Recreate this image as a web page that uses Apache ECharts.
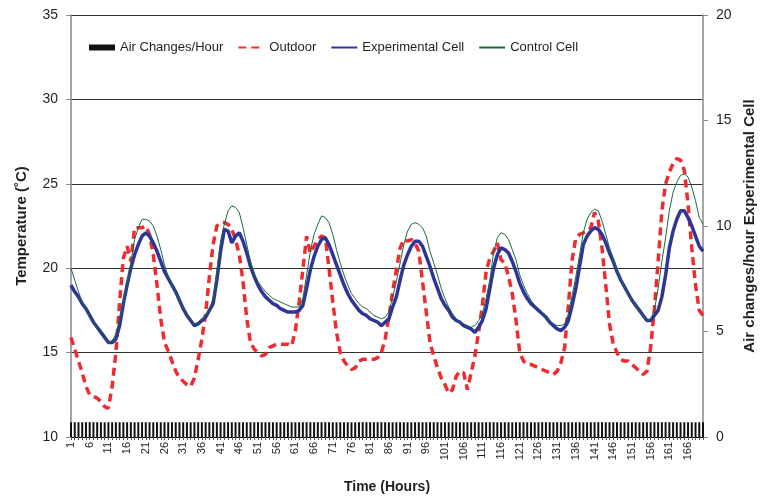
<!DOCTYPE html>
<html>
<head>
<meta charset="utf-8">
<script src="https://cdn.jsdelivr.net/npm/echarts@6/dist/echarts.min.js"></script>
<style>html,body{margin:0;padding:0;background:#fff;}#c{width:762px;height:496px;}</style>
</head>
<body>
<div id="c"></div>
<script>
var hours = [1,2,3,4,5,6,7,8,9,10,11,12,13,14,15,16,17,18,19,20,21,22,23,24,25,26,27,28,29,30,
31,32,33,34,35,36,37,38,39,40,41,42,43,44,45,46,47,48,49,50,51,52,53,54,55,56,57,58,59,60,
61,62,63,64,65,66,67,68,69,70,71,72,73,74,75,76,77,78,79,80,81,82,83,84,85,86,87,88,89,90,
91,92,93,94,95,96,97,98,99,100,101,102,103,104,105,106,107,108,109,110,111,112,113,114,115,116,117,118,119,120,
121,122,123,124,125,126,127,128,129,130,131,132,133,134,135,136,137,138,139,140,141,142,143,144,145,146,147,148,149,150,
151,152,153,154,155,156,157,158,159,160,161,162,163,164,165,166,167,168,169,170];

var airChanges = [0.7,0.7,0.7,0.7,0.7,0.7,0.7,0.7,0.7,0.7,
0.7,0.7,0.7,0.7,0.7,0.7,0.7,0.7,0.7,0.7,
0.7,0.7,0.7,0.7,0.7,0.7,0.7,0.7,0.7,0.7,
0.7,0.7,0.7,0.7,0.7,0.7,0.7,0.7,0.7,0.7,
0.7,0.7,0.7,0.7,0.7,0.7,0.7,0.7,0.7,0.7,
0.7,0.7,0.7,0.7,0.7,0.7,0.7,0.7,0.7,0.7,
0.7,0.7,0.7,0.7,0.7,0.7,0.7,0.7,0.7,0.7,
0.7,0.7,0.7,0.7,0.7,0.7,0.7,0.7,0.7,0.7,
0.7,0.7,0.7,0.7,0.7,0.7,0.7,0.7,0.7,0.7,
0.7,0.7,0.7,0.7,0.7,0.7,0.7,0.7,0.7,0.7,
0.7,0.7,0.7,0.7,0.7,0.7,0.7,0.7,0.7,0.7,
0.7,0.7,0.7,0.7,0.7,0.7,0.7,0.7,0.7,0.7,
0.7,0.7,0.7,0.7,0.7,0.7,0.7,0.7,0.7,0.7,
0.7,0.7,0.7,0.7,0.7,0.7,0.7,0.7,0.7,0.7,
0.7,0.7,0.7,0.7,0.7,0.7,0.7,0.7,0.7,0.7,
0.7,0.7,0.7,0.7,0.7,0.7,0.7,0.7,0.7,0.7,
0.7,0.7,0.7,0.7,0.7,0.7,0.7,0.7,0.7,0.7];

var outdoor = [15.9,15.2,14.5,13.8,13.0,12.5,12.4,12.3,12.1,11.8,
11.7,13.0,15.0,18.0,20.6,21.3,20.4,22.4,22.4,22.4,
22.5,22.0,20.8,19.0,17.0,15.6,15.1,14.5,13.9,13.5,
13.3,13.1,13.0,13.5,14.6,15.8,17.3,19.5,21.4,22.5,
22.7,22.7,22.6,22.3,21.7,20.8,19.2,17.0,15.6,15.2,
15.0,14.8,14.9,15.3,15.4,15.5,15.5,15.5,15.5,15.4,
16.3,18.0,19.9,21.9,20.9,21.3,21.7,21.9,21.8,20.0,
18.0,16.2,15.0,14.5,14.2,14.0,14.1,14.5,14.6,14.6,
14.6,14.6,14.7,15.0,15.8,17.1,18.6,19.9,21.2,21.7,
21.6,21.7,21.5,21.0,19.2,17.4,15.6,14.8,14.1,13.5,
13.1,12.6,12.8,13.6,13.9,13.8,12.8,13.8,14.8,16.2,
17.8,19.8,20.6,21.0,21.5,20.5,20.3,19.5,18.5,16.9,
15.0,14.5,14.3,14.3,14.2,14.1,14.0,13.9,13.8,13.7,
13.9,14.4,15.3,17.8,20.5,21.8,22.0,22.1,22.2,22.4,
23.3,22.8,21.2,19.0,16.7,15.5,15.0,14.6,14.5,14.5,
14.3,14.1,13.9,13.7,13.9,15.3,17.6,20.4,23.4,25.0,
25.7,26.2,26.5,26.4,25.8,23.8,21.2,19.0,17.5,17.2];

var experimental = [19.0,18.6,18.3,17.9,17.6,17.2,16.8,16.5,16.2,15.9,
15.6,15.6,15.8,16.6,17.9,19.0,20.0,20.8,21.4,21.9,
22.1,21.9,21.5,21.0,20.4,19.8,19.4,19.0,18.6,18.1,
17.6,17.2,16.9,16.6,16.7,16.9,17.1,17.5,17.9,19.3,
21.0,22.3,22.2,21.5,21.9,22.1,21.6,20.9,20.1,19.5,
19.0,18.6,18.3,18.1,17.9,17.8,17.6,17.5,17.4,17.4,
17.4,17.5,17.8,18.8,19.9,20.7,21.3,21.7,21.8,21.4,
20.8,20.2,19.6,19.0,18.5,18.1,17.8,17.5,17.3,17.2,
17.0,16.9,16.8,16.6,16.8,17.0,17.7,18.3,19.3,20.2,
20.8,21.3,21.6,21.6,21.3,20.7,20.1,19.4,18.8,18.2,
17.8,17.5,17.1,16.9,16.8,16.6,16.5,16.4,16.2,16.5,
16.9,17.6,18.8,20.0,20.8,21.2,21.1,20.9,20.4,19.8,
19.1,18.6,18.2,17.9,17.7,17.5,17.3,17.1,16.8,16.6,
16.4,16.3,16.5,16.9,17.8,18.8,20.1,21.4,21.9,22.2,
22.4,22.3,22.0,21.5,20.9,20.4,19.8,19.3,18.9,18.5,
18.1,17.8,17.5,17.2,16.9,16.9,17.2,17.5,18.3,19.6,
21.2,22.2,22.9,23.4,23.4,23.0,22.5,21.9,21.3,21.0];

var control = [20.0,19.3,18.6,18.0,17.5,17.1,16.8,16.4,16.1,15.8,
15.6,15.7,16.1,17.0,18.0,19.0,20.3,21.7,22.4,22.9,
22.9,22.8,22.5,21.9,21.1,20.2,19.5,19.0,18.6,18.1,
17.7,17.3,17.0,16.7,16.8,17.0,17.2,17.6,18.2,19.8,
21.6,22.6,23.4,23.7,23.6,23.3,22.4,21.4,20.4,19.7,
19.2,18.9,18.6,18.4,18.2,18.1,18.0,17.9,17.8,17.7,
17.7,17.7,18.2,19.6,21.0,22.0,22.6,23.1,23.0,22.7,
22.0,21.1,20.3,19.6,19.0,18.5,18.2,17.9,17.7,17.6,
17.4,17.2,17.1,17.0,17.1,17.4,18.3,19.2,20.3,21.4,
22.2,22.6,22.7,22.6,22.4,21.9,21.0,20.3,19.6,18.8,
18.2,17.7,17.3,17.0,16.8,16.7,16.6,16.5,16.6,16.9,
17.3,18.2,19.3,20.9,21.8,22.1,22.0,21.7,21.1,20.5,
19.6,19.0,18.5,18.1,17.8,17.6,17.4,17.1,16.9,16.7,
16.6,16.6,16.7,17.3,18.4,19.5,20.8,22.1,22.9,23.3,
23.5,23.4,22.8,22.0,21.2,20.6,19.9,19.3,18.9,18.5,
18.1,17.8,17.5,17.2,16.9,17.0,17.5,18.8,20.4,21.8,
23.4,24.5,25.1,25.5,25.6,25.4,24.8,24.0,23.0,22.6];

var FONT = "'Liberation Sans', Arial, sans-serif";
var TXT = '#231f20';

var chart = echarts.init(document.getElementById('c'), null, {renderer: 'canvas'});
chart.setOption({
  animation: false,
  backgroundColor: '#ffffff',
  textStyle: {fontFamily: FONT},
  grid: {left: 71, right: 59, top: 15, bottom: 59, containLabel: false, outerBoundsMode: 'none'},
  legend: {
    left: 84, top: 36,
    itemWidth: 26, itemHeight: 6, itemGap: 14,
    textStyle: {fontSize: 13, color: TXT, fontFamily: FONT},
    data: [
      {name: 'Air Changes/Hour', icon: 'rect'},
      {name: 'Outdoor', itemStyle: {opacity: 0}},
      {name: 'Experimental Cell', itemStyle: {opacity: 0}},
      {name: 'Control Cell', itemStyle: {opacity: 0}}
    ]
  },
  xAxis: {
    type: 'category',
    data: hours,
    boundaryGap: false,
    name: 'Time (Hours)',
    nameLocation: 'middle',
    nameGap: 43,
    nameTextStyle: {fontSize: 14, fontWeight: 'bold', color: TXT, fontFamily: FONT},
    axisLine: {lineStyle: {color: '#000', width: 1}},
    axisTick: {show: true, interval: 0, length: 3, lineStyle: {color: '#555'}},
    axisLabel: {interval: 4, rotate: 90, fontSize: 11, color: TXT, margin: 5, fontFamily: FONT},
    splitLine: {show: false}
  },
  yAxis: [{
    type: 'value', min: 10, max: 35, interval: 5,
    name: 'Temperature (˚C)',
    nameLocation: 'middle', nameGap: 42, nameRotate: 90,
    nameTextStyle: {fontSize: 15, fontWeight: 'bold', color: TXT, fontFamily: FONT},
    axisLine: {show: true, lineStyle: {color: '#888', width: 1.5}},
    axisTick: {show: true, length: 5, lineStyle: {color: '#888'}},
    axisLabel: {fontSize: 14, color: TXT, margin: 13, fontFamily: FONT},
    splitLine: {show: true, lineStyle: {color: '#333', width: 1}}
  }, {
    type: 'value', min: 0, max: 20, interval: 5,
    position: 'right',
    name: 'Air changes/hour Experimental Cell',
    nameLocation: 'middle', nameGap: 27, nameRotate: 90,
    nameTextStyle: {fontSize: 15, fontWeight: 'bold', color: TXT, fontFamily: FONT},
    axisLine: {show: true, lineStyle: {color: '#888', width: 1.5}},
    axisTick: {show: true, length: 5, lineStyle: {color: '#888'}},
    axisLabel: {fontSize: 14, color: TXT, margin: 13, fontFamily: FONT},
    splitLine: {show: false}
  }],
  series: [{
    name: 'Air Changes/Hour', type: 'bar', yAxisIndex: 1,
    data: airChanges, barWidth: 2,
    itemStyle: {color: '#111'}
  }, {
    name: 'Outdoor', type: 'line', yAxisIndex: 0, data: outdoor,
    symbol: 'none', smooth: false,
    itemStyle: {color: '#ee2b2f'},
    lineStyle: {color: '#ee2b2f', width: 3.5, type: [8, 5]}
  }, {
    name: 'Experimental Cell', type: 'line', yAxisIndex: 0, data: experimental,
    symbol: 'none', smooth: false,
    itemStyle: {color: '#2f3597'},
    lineStyle: {color: '#2f3597', width: 3.5}
  }, {
    name: 'Control Cell', type: 'line', yAxisIndex: 0, data: control,
    symbol: 'none', smooth: false,
    itemStyle: {color: '#1b6b3c'},
    lineStyle: {color: '#1b6b3c', width: 1}
  }]
});
</script>
</body>
</html>
